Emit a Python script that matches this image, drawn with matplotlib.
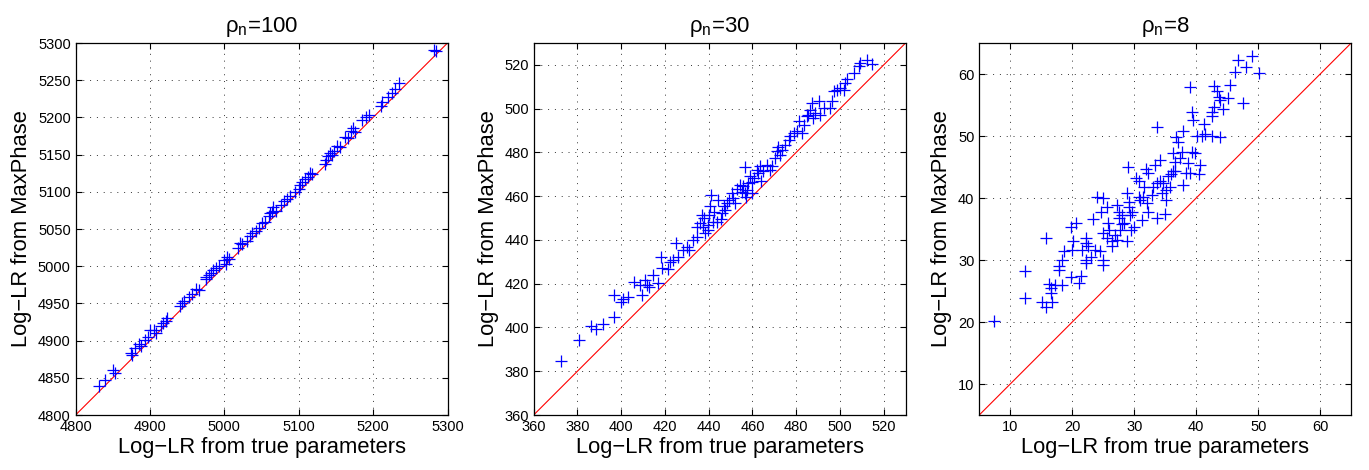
import numpy as np
import matplotlib
matplotlib.use('Agg')
import matplotlib.pyplot as plt

plt.rcParams['font.family'] = ['Liberation Sans', 'DejaVu Sans']
plt.rcParams['mathtext.fontset'] = 'custom'
plt.rcParams['mathtext.rm'] = 'Liberation Sans'
plt.rcParams['mathtext.it'] = 'Liberation Sans'

# rho_n = 100
true_100 = [4832, 4840, 4850, 4853, 4875, 4876, 4880, 4885, 4888, 4893, 4898, 4900,
            4905, 4908, 4915, 4918, 4923, 4921, 4940, 4943, 4946, 4952, 4957, 4962,
            4966, 4975, 4976, 4979, 4982, 4985, 4989, 4993, 4999, 5003, 5006, 5002,
            5018, 5021, 5024, 5030, 5034, 5037, 5042, 5046, 5050, 5054, 5060, 5061,
            5066, 5064, 5070, 5076, 5080, 5084, 5088, 5095, 5100, 5102, 5104, 5108,
            5112, 5115, 5118, 5135, 5137, 5140, 5142, 5145, 5148, 5151, 5155, 5162,
            5166, 5170, 5173, 5175, 5185, 5191, 5195, 5210, 5212, 5220, 5225, 5230,
            5235, 5282, 5285]
mp_100 = [4839, 4847, 4860, 4856, 4884, 4880, 4890, 4895, 4893, 4901, 4905, 4914,
          4914, 4910, 4920, 4923, 4931, 4927, 4947, 4950, 4953, 4959, 4962, 4970,
          4968, 4983, 4986, 4988, 4991, 4995, 4997, 5000, 5008, 5013, 5010, 5003,
          5025, 5031, 5030, 5034, 5040, 5044, 5047, 5052, 5058, 5060, 5068, 5071,
          5080, 5073, 5074, 5082, 5087, 5091, 5094, 5100, 5104, 5109, 5113, 5117,
          5120, 5125, 5124, 5138, 5143, 5148, 5152, 5150, 5155, 5161, 5160, 5174,
          5172, 5182, 5186, 5180, 5196, 5200, 5203, 5215, 5221, 5228, 5233, 5238,
          5246, 5290, 5289]

# rho_n = 30
true_30 = [372.7, 380.8, 386.1, 388.7, 391.5, 396.8, 396.8, 399.8, 401.0, 403.2,
           405.8, 408.5, 409.3, 410.8, 411.9, 412.8, 414.7, 416.9, 418.0, 418.5,
           421.2, 422.3, 423.8, 425.0, 426.1, 428.1, 429.9, 431.1, 433.0, 434.5,
           434.5, 436.0, 437.6, 436.8, 438.3, 439.8, 440.3, 440.6, 440.9, 441.8,
           443.7, 444.4, 446.0, 447.5, 448.2, 449.5, 450.5, 451.3, 452.1, 454.4,
           455.1, 456.6, 456.6, 457.4, 458.2, 458.9, 459.7, 460.8, 462.0, 462.7,
           463.5, 465.0, 466.6, 468.1, 468.9, 470.4, 471.1, 471.9, 472.7, 473.4,
           475.0, 476.5, 477.3, 478.8, 480.3, 481.1, 482.6, 483.4, 484.9, 485.6,
           486.4, 487.2, 487.9, 488.7, 490.2, 491.0, 492.5, 495.6, 496.3, 497.4,
           498.6, 500.2, 501.7, 502.4, 503.2, 506.6, 508.5, 509.0, 512.4, 514.7,
           442.5, 445.5, 438.0, 439.5, 447.0, 453.0, 455.8, 457.0, 460.0, 464.0]
mp_30 = [384.6, 394.5, 400.6, 399.2, 401.8, 404.9, 414.8, 411.8, 412.8, 414.0,
         420.6, 419.4, 414.8, 421.7, 419.4, 418.6, 424.0, 420.2, 432.4, 427.0,
         426.6, 430.1, 430.8, 438.5, 432.4, 435.4, 436.9, 435.4, 440.0, 441.5,
         446.1, 447.6, 446.1, 451.5, 443.1, 444.6, 451.5, 455.3, 460.6, 448.2,
         448.2, 458.3, 452.2, 453.7, 456.8, 458.3, 461.4, 459.1, 456.8, 465.2,
         462.1, 461.4, 473.3, 462.9, 466.0, 469.0, 461.4, 468.2, 471.9, 470.5,
         473.6, 471.3, 474.4, 472.1, 473.8, 477.4, 480.5, 482.7, 478.9, 481.2,
         483.5, 485.8, 487.3, 488.9, 489.6, 494.2, 488.9, 492.7, 496.5, 497.3,
         499.5, 502.6, 495.7, 498.0, 503.4, 497.3, 500.3, 500.3, 503.4, 508.0,
         508.7, 509.5, 508.7, 511.8, 513.6, 516.3, 519.4, 520.9, 522.4, 520.2,
         453.0, 449.5, 450.0, 447.0, 455.5, 463.5, 464.5, 459.5, 466.5, 467.0]

# rho_n = 8
true_8 = [7.3, 12.3, 12.3, 15.7, 15.2, 15.7, 16.7, 16.6, 16.3, 17.3, 18.3, 17.8,
          17.8, 18.4, 18.6, 19.8, 21.4, 21.1, 19.8, 20.6, 20.2, 19.9, 21.5, 22.3,
          22.2, 22.6, 22.3, 22.3, 23.4, 23.6, 24.0, 24.9, 24.7, 24.9, 24.5, 25.0,
          24.9, 25.6, 25.8, 25.9, 25.6, 26.4, 27.2, 27.5, 27.6, 27.2, 28.0, 28.3,
          27.7, 29.0, 28.9, 29.1, 29.3, 29.4, 28.9, 29.6, 30.3, 30.7, 30.7, 31.0,
          30.0, 31.5, 31.9, 32.3, 31.4, 32.1, 32.3, 32.8, 33.0, 33.4, 33.6, 34.2,
          33.7, 34.2, 34.7, 35.1, 35.2, 33.6, 35.0, 34.4, 35.5, 36.0, 36.3, 36.6,
          36.3, 36.8, 37.1, 37.9, 37.4, 37.7, 37.9, 38.3, 38.7, 39.0, 39.3, 39.8,
          40.5, 40.6, 39.0, 39.3, 39.5, 40.1, 40.9, 41.3, 41.4, 42.6, 43.8, 42.5,
          42.6, 42.9, 42.9, 43.3, 43.7, 43.8, 44.4, 45.1, 45.4, 47.6, 46.2, 46.8,
          48.1, 49.0, 50.2, 36.6, 35.8, 29.1, 28.0, 26.4, 16.5, 23.0, 26.9, 31.2]
mp_8 = [20.2, 28.3, 23.9, 33.5, 23.3, 22.4, 23.3, 24.7, 26.2, 26.0, 26.0, 28.4,
        29.0, 30.0, 31.4, 27.3, 27.5, 26.3, 35.4, 36.0, 33.0, 31.6, 31.6, 33.5,
        32.7, 32.2, 30.0, 29.5, 36.6, 31.6, 40.2, 40.0, 37.8, 34.3, 31.4, 30.0,
        29.2, 38.5, 35.9, 34.9, 33.5, 32.2, 38.9, 37.7, 36.7, 33.3, 37.2, 36.0,
        34.9, 45.0, 40.8, 39.4, 37.2, 34.9, 33.1, 37.8, 43.2, 42.7, 40.2, 39.7,
        35.4, 41.8, 44.6, 44.0, 40.2, 39.2, 37.8, 40.5, 41.8, 45.3, 51.5, 46.1,
        42.4, 42.8, 42.5, 39.7, 41.3, 36.7, 37.4, 40.8, 43.5, 43.9, 44.4, 45.8,
        47.2, 49.9, 49.1, 50.8, 46.4, 47.5, 42.1, 44.0, 45.6, 44.0, 47.5, 47.2,
        43.9, 45.3, 57.9, 53.9, 52.6, 50.0, 50.0, 51.9, 50.4, 50.0, 49.9, 53.2,
        53.8, 54.7, 58.0, 57.2, 56.3, 55.8, 54.3, 56.1, 58.2, 55.4, 60.3, 62.3,
        61.1, 62.9, 60.2, 44.3, 41.8, 38.6, 35.8, 33.0, 25.5, 30.5, 34.0, 36.5]

titles = ['ρ$_n$=100', 'ρ$_n$=30', 'ρ$_n$=8']
limits = [(4800, 5300), (360, 530), (5, 65)]
xticks = [np.arange(4800, 5301, 100), np.arange(360, 521, 20), np.arange(10, 61, 10)]
yticks = [np.arange(4800, 5301, 50), np.arange(360, 521, 20), np.arange(10, 61, 10)]
xs = [true_100, true_30, true_8]
ys = [mp_100, mp_30, mp_8]
lefts = [0.0552, 0.3898, 0.7153]

fig = plt.figure(figsize=(13.69, 4.70), dpi=100)
for i in range(3):
    ax = fig.add_axes([lefts[i], 0.117, 0.2717, 0.7915])
    lo, hi = limits[i]
    ax.plot([lo, hi], [lo, hi], color='red', linewidth=0.8)
    ax.plot(xs[i], ys[i], '+', color='blue', markersize=8, markeredgewidth=0.9)
    ax.set_xlim(lo, hi)
    ax.set_ylim(lo, hi)
    ax.set_xticks(xticks[i])
    ax.set_yticks(yticks[i])
    ax.grid(True, linestyle=(0, (1, 6)), color='#333333', linewidth=0.7)
    ax.tick_params(direction='in', top=True, right=True, labelsize=10.5, length=4)
    for s in ax.spines.values():
        s.set_linewidth(0.9)
    ax.set_xlabel('Log\u2212LR from true parameters', fontsize=15.8, labelpad=2)
    ax.set_ylabel('Log\u2212LR from MaxPhase', fontsize=15.8, labelpad=4)
    ax.set_title(titles[i], fontsize=16, pad=8)

fig.savefig('out.png', dpi=100)
